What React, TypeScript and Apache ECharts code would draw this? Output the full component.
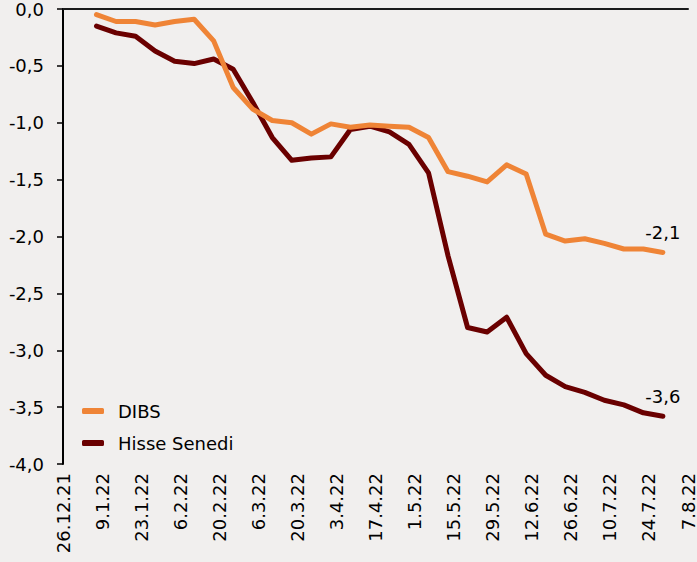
import React, { useEffect, useRef } from "react";
import * as echarts from "echarts";

// x-axis tick labels (every 14 days starting 26.12.21)
const tickLabels = [
  "26.12.21", "9.1.22", "23.1.22", "6.2.22", "20.2.22", "6.3.22", "20.3.22", "3.4.22",
  "17.4.22", "1.5.22", "15.5.22", "29.5.22", "12.6.22", "26.6.22", "10.7.22", "24.7.22", "7.8.22",
];

// weekly observation dates
const dates = [
  "7.1.22", "14.1.22", "21.1.22", "28.1.22", "4.2.22", "11.2.22", "18.2.22", "25.2.22",
  "4.3.22", "11.3.22", "18.3.22", "25.3.22", "1.4.22", "8.4.22", "15.4.22", "22.4.22",
  "29.4.22", "6.5.22", "13.5.22", "20.5.22", "27.5.22", "3.6.22", "10.6.22", "17.6.22",
  "24.6.22", "1.7.22", "8.7.22", "15.7.22", "22.7.22", "29.7.22",
];

const dibs = [
  -0.05, -0.11, -0.11, -0.14, -0.11, -0.09, -0.28, -0.69, -0.88, -0.98, -1.0, -1.1, -1.01,
  -1.04, -1.02, -1.03, -1.04, -1.13, -1.43, -1.47, -1.52, -1.37, -1.45, -1.98, -2.04, -2.02,
  -2.06, -2.11, -2.11, -2.14,
];

const hisse = [
  -0.15, -0.21, -0.24, -0.37, -0.46, -0.48, -0.44, -0.53, -0.82, -1.13, -1.33, -1.31, -1.3,
  -1.06, -1.03, -1.08, -1.19, -1.44, -2.17, -2.8, -2.84, -2.71, -3.03, -3.22, -3.32, -3.37,
  -3.44, -3.48, -3.55, -3.58,
];

const seriesNames = ["DIBS", "Hisse Senedi"];
const colors = ["#ef8436", "#6a0000"];

const FONT = "DejaVu Sans";

function parseDate(s: string): number {
  const [d, m, y] = s.split(".").map(Number);
  return Date.UTC(2000 + y, m - 1, d);
}
const origin = parseDate(tickLabels[0]);
const dayOffset = (s: string) => Math.round((parseDate(s) - origin) / 86400000);
const fmt = (v: number) => v.toFixed(1).replace(".", ",");

function buildData(values: number[]) {
  return values.map((v, i) => {
    const point: any = { value: [dayOffset(dates[i]), v] };
    if (i === values.length - 1) {
      point.label = {
        show: true,
        position: "top",
        distance: 10,
        formatter: () => fmt(v),
        color: "#000",
        fontFamily: FONT,
        fontSize: 18,
      };
    }
    return point;
  });
}

export default function App() {
  const ref = useRef<HTMLDivElement>(null);
  useEffect(() => {
    document.body.style.margin = "0";
    if (!ref.current) return;
    const chart = echarts.init(ref.current, null, { renderer: "svg" });
    const maxDay = (tickLabels.length - 1) * 14;
    chart.setOption({
      animation: false,
      backgroundColor: "#f1efee",
      textStyle: { fontFamily: FONT },
      grid: { left: 63, top: 8, width: 630, height: 456, containLabel: false },
      legend: {
        orient: "vertical",
        left: 77,
        top: 397,
        itemGap: 14,
        itemWidth: 22,
        itemHeight: 6,
        icon: "roundRect",
        data: seriesNames,
        textStyle: { fontFamily: FONT, fontSize: 18, color: "#000", padding: [0, 0, 0, 9] },
      },
      xAxis: [
        {
          type: "value",
          position: "bottom",
          min: 0,
          max: maxDay,
          interval: 14,
          axisLine: { show: false },
          axisTick: { show: false },
          splitLine: { show: false },
          axisLabel: {
            rotate: 90,
            margin: 9,
            fontFamily: FONT,
            fontSize: 18,
            color: "#000",
            formatter: (v: number) => tickLabels[Math.round(v / 14)] ?? "",
          },
        },
        {
          type: "value",
          position: "top",
          min: 0,
          max: maxDay,
          interval: 14,
          axisLine: { show: true, onZero: false, lineStyle: { color: "#1a1a1a", width: 2 } },
          axisTick: { show: false },
          splitLine: { show: false },
          axisLabel: { show: false },
        },
      ],
      yAxis: {
        type: "value",
        min: -4,
        max: 0,
        interval: 0.5,
        axisLine: { show: true, lineStyle: { color: "#000", width: 2 } },
        axisTick: { show: true, length: 6, lineStyle: { color: "#000", width: 1.5 } },
        splitLine: { show: false },
        axisLabel: {
          margin: 19,
          fontFamily: FONT,
          fontSize: 18,
          color: "#000",
          formatter: (v: number) => fmt(v),
        },
      },
      series: [dibs, hisse].map((vals, idx) => ({
        name: seriesNames[idx],
        type: "line",
        xAxisIndex: 0,
        showSymbol: true,
        symbol: "circle",
        symbolSize: 1,
        itemStyle: { color: colors[idx] },
        color: colors[idx],
        lineStyle: { width: 5, color: colors[idx], cap: "round", join: "round" },
        data: buildData(vals),
        z: idx === 0 ? 3 : 2,
      })),
    });
    return () => chart.dispose();
  }, []);
  return (
    <div
      ref={ref}
      style={{ position: "fixed", left: 0, top: 0, width: 697, height: 562 }}
    />
  );
}
